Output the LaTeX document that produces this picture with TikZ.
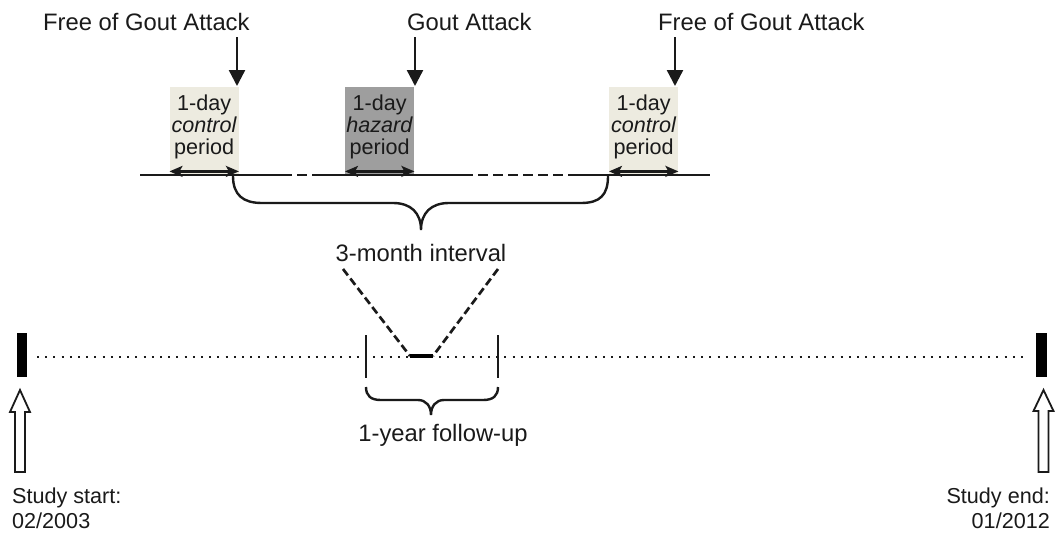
\documentclass[tikz,border=0pt]{standalone}
\usepackage{fontspec}
\setmainfont{Liberation Sans}
\usetikzlibrary{arrows.meta}
\definecolor{ink}{HTML}{1A1A1A}
\definecolor{ctrlfill}{HTML}{EDEBE0}
\definecolor{hazfill}{HTML}{9E9E9E}
\begin{document}
\begin{tikzpicture}[x=1pt,y=-1pt,
  big/.style={font=\fontsize{23.8}{26}\selectfont, text=ink, inner sep=0},
  small/.style={font=\fontsize{21.6}{25}\selectfont, text=ink, inner sep=0},
  periodbox/.style={draw=none, minimum width=69pt, minimum height=88pt, inner sep=0, anchor=north west},
  boxtext/.style={font=\fontsize{21.6}{22}\selectfont, text=ink, inner sep=0, align=center, anchor=north},
  downarrow/.style={-{Triangle[width=16pt,length=16pt]}, line width=2.4pt, draw=ink},
  spanarrow/.style={{Stealth[length=13pt,width=11pt,inset=3pt]}-{Stealth[length=13pt,width=11pt,inset=3pt]}, line width=2.2pt, draw=ink},
  timeline/.style={line width=2.2pt, draw=ink},
  dashline/.style={line width=2.2pt, draw=ink, dash pattern=on 10pt off 5pt},
  bracepath/.style={line width=2.4pt, draw=ink},
  vdash/.style={line width=2.7pt, draw=ink, dash pattern=on 8pt off 4pt},
  dotline/.style={line width=2pt, draw=ink, dash pattern=on 2pt off 6.2pt},
  tick/.style={line width=2.2pt, draw=ink},
  bar/.style={fill=black, draw=none, minimum width=10.5pt, minimum height=44pt, inner sep=0},
  openarrow/.style={line width=1.8pt, draw=ink, fill=white, line join=miter}
]
\useasboundingbox (0,0) rectangle (1060,533);

% top labels
\node[big, anchor=base west] (lab1) at (43,30) {Free of Gout Attack};
\node[big, anchor=base west] (lab2) at (407,30) {Gout Attack};
\node[big, anchor=base west] (lab3) at (658,30) {Free of Gout Attack};

% period boxes
\node[periodbox, fill=ctrlfill] (c1) at (169.5,87) {};
\node[periodbox, fill=hazfill] (hz) at (345,87) {};
\node[periodbox, fill=ctrlfill] (c3) at (609,87) {};
\node[boxtext] (t1) at (c1.north |- 0,94.3) {1-day\\\textit{control}\\period};
\node[boxtext] (t2) at (hz.north |- 0,94.3) {1-day\\\textit{hazard}\\period};
\node[boxtext] (t3) at (c3.north |- 0,94.3) {1-day\\\textit{control}\\period};

% down arrows
\coordinate (a1) at (237,37);
\coordinate (a2) at (415,37);
\coordinate (a3) at (675,37);
\draw[downarrow] (a1) -- (a1 |- 0,86);
\draw[downarrow] (a2) -- (a2 |- 0,86);
\draw[downarrow] (a3) -- (a3 |- 0,86);

% top timeline
\coordinate (L0) at (140,175);
\coordinate (L1) at (282,175);
\coordinate (L2) at (322,175);
\coordinate (L3) at (463,175);
\coordinate (L4) at (573,175);
\coordinate (L5) at (710,175);
\draw[timeline] (L0) -- (L1);
\draw[dashline] (L1) -- (L2);
\draw[timeline] (L2) -- (L3);
\draw[dashline] (L3) -- (L4);
\draw[timeline] (L4) -- (L5);

% span arrows inside boxes
\draw[spanarrow] ([yshift=4pt]c1.south west) -- ([yshift=4pt]c1.south east);
\draw[spanarrow] ([yshift=4pt]hz.south west) -- ([yshift=4pt]hz.south east);
\draw[spanarrow] ([yshift=4pt]c3.south west) -- ([yshift=4pt]c3.south east);

% top brace
\coordinate (bt) at (421,230);
\draw[bracepath] (233,176) .. controls (233,195) and (243,203) .. (262,203)
  -- (393,203) .. controls (411,203) and (421,213) .. (bt)
  .. controls (421,213) and (431,203) .. (449,203)
  -- (581,203) .. controls (600,203) and (608,195) .. (608,176);

\node[big, anchor=base] (three) at (421,261) {3-month interval};

% bottom timeline
\node[bar] (sbar) at (22,355) {};
\node[bar] (ebar) at (1041.5,355) {};
\draw[dotline] ([xshift=15pt]sbar.center |- 0,357) -- (1026,357);

% zoom-in dashed lines
\coordinate (z1) at (410,356);
\coordinate (z2) at (433,356);
\draw[vdash] (343,269) -- (z1);
\draw[vdash] (498,269) -- (z2);
\draw[line width=4.5pt, draw=black] (z1) -- (z2);

% follow-up ticks
\draw[tick] (366,335) -- (366,378);
\draw[tick] (498,335) -- (498,378);

% bottom brace
\coordinate (bb) at (431,415);
\draw[bracepath] (366,387) .. controls (366,396) and (371,400) .. (381,400)
  -- (418,400) .. controls (426,400) and (431,406) .. (bb)
  .. controls (431,406) and (436,400) .. (444,400)
  -- (483,400) .. controls (493,400) and (498,396) .. (498,387);

\node[big, anchor=base] (fu) at (443,441) {1-year follow-up};

% open arrows
\draw[openarrow] (15,472) -- (15,412) -- (10,412) -- (20,390) -- (30,412) -- (25,412) -- (25,472) -- cycle;
\draw[openarrow] (1038.5,472) -- (1038.5,411) -- (1033.5,411) -- (1043.5,390) -- (1053.5,411) -- (1048.5,411) -- (1048.5,472) -- cycle;

% bottom labels
\node[small, anchor=base west] (ss1) at (12,503) {Study start:};
\node[small, anchor=base west] (ss2) at (12,528) {02/2003};
\node[small, anchor=base east] (se1) at (1050,503) {Study end:};
\node[small, anchor=base east] (se2) at (1050,528) {01/2012};
\end{tikzpicture}
\end{document}
